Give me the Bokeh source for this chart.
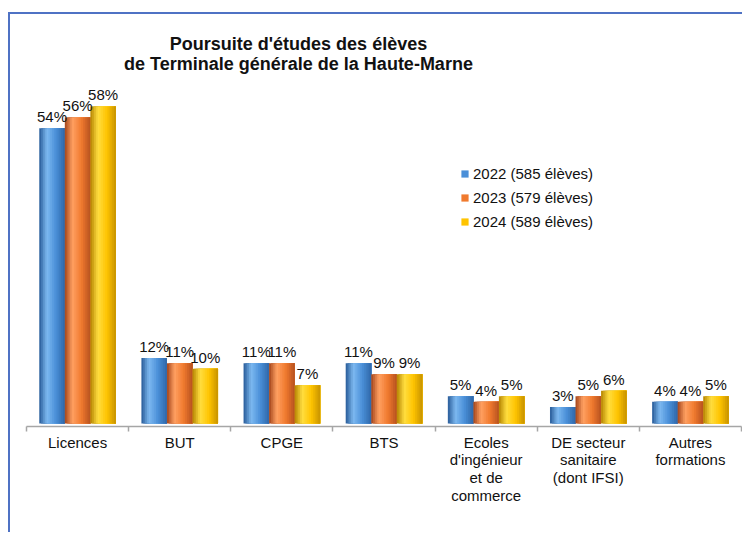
from bokeh.plotting import figure
from bokeh.models import (ColumnDataSource, FactorRange, Range1d, LinearAxis, FixedTicker,
                          LabelSet, Label, Legend, LegendItem)
from bokeh.core.properties import value
from bokeh.transform import dodge
from bokeh.embed import file_html
from bokeh.resources import INLINE

# ---------------- data ----------------
title_line1 = "Poursuite d'études des élèves"
title_line2 = "de Terminale générale de la Haute-Marne"
category_keys = ["Licences", "BUT", "CPGE", "BTS", "Ecoles", "DE", "Autres"]
category_labels = ["Licences", "BUT", "CPGE", "BTS",
                   "Ecoles\nd'ingénieur\net de\ncommerce",
                   "DE secteur\nsanitaire\n(dont IFSI)",
                   "Autres\nformations"]
series_names = ["2022 (585 élèves)", "2023 (579 élèves)", "2024 (589 élèves)"]
values_2022 = [54, 12, 11, 11, 5, 3, 4]
values_2023 = [56, 11, 11, 9, 4, 5, 4]
values_2024 = [58, 10, 7, 9, 5, 6, 5]
series_values = [values_2022, values_2023, values_2024]

# ---------------- style ----------------
FONT = "Liberation Sans"
palettes = [  # dark, mid, light
    ("#275a98", "#4a8fd8", "#7db9f0"),
    ("#a3441a", "#f07a2e", "#ffa062"),
    ("#b58300", "#ffc400", "#ffde40"),
]
legend_colors = ["#4a8fd8", "#f07a2e", "#ffc400"]

def hex2rgb(h):
    h = h.lstrip("#")
    return tuple(int(h[i:i + 2], 16) for i in (0, 2, 4))

def rgb2hex(c):
    return "#%02x%02x%02x" % tuple(int(round(v)) for v in c)

def mix(a, b, t):
    a, b = hex2rgb(a), hex2rgb(b)
    return rgb2hex([a[i] + (b[i] - a[i]) * t for i in range(3)])

def shade(pal, t):
    dark, mid, light = pal
    if t < 0.3:
        return mix(dark, light, t / 0.3)
    if t < 0.65:
        return mix(light, mid, (t - 0.3) / 0.35)
    return mix(mid, dark, (t - 0.65) / 0.35 * 0.75)

p = figure(x_range=FactorRange(factors=category_keys, range_padding=0),
           y_range=Range1d(-0.55, 73.0),
           width=734, height=520,
           output_backend="svg", toolbar_location=None,
           x_axis_location=None, y_axis_location=None,
           min_border_left=16, min_border_right=3,
           min_border_top=10, min_border_bottom=108)
p.outline_line_color = None
p.xgrid.visible = False
p.ygrid.visible = False
p.background_fill_color = "white"
p.border_fill_color = "white"
p.styles = {"border-top": "2px solid #4f72c4", "border-left": "2px solid #4f72c4",
            "margin-top": "12px", "margin-left": "8px"}

# axis with boundary ticks and centred labels
ax = LinearAxis(ticker=FixedTicker(ticks=[i + 0.5 for i in range(len(category_keys))],
                                   minor_ticks=list(range(len(category_keys) + 1))),
                major_label_overrides={i + 0.5: lab for i, lab in enumerate(category_labels)},
                major_tick_out=0, major_tick_in=0,
                minor_tick_out=5, minor_tick_in=0,
                axis_line_color="#a6a6a6", axis_line_width=1.5,
                minor_tick_line_color="#a6a6a6", minor_tick_line_width=1.5,
                major_label_standoff=2,
                major_label_text_font=FONT, major_label_text_font_size="15px",
                major_label_text_line_height=1.04,
                major_label_text_color="#111111")
p.add_layout(ax, "below")

bar_w = 0.25
offsets = [-bar_w, 0.0, bar_w]
n_slices = 14
legend_items = []
for s, (vals, pal) in enumerate(zip(series_values, palettes)):
    src = ColumnDataSource(dict(cat=category_keys, val=vals,
                                txt=[f"{v}%" for v in vals]))
    left = offsets[s] - bar_w / 2
    right = offsets[s] + bar_w / 2
    step = bar_w / n_slices
    for j in range(n_slices):
        l = left + j * step
        c = (l + right) / 2
        w = right - l
        col = shade(pal, (j + 0.5) / n_slices)
        p.vbar(x=dodge("cat", c, range=p.x_range), top="val", bottom=0, width=w,
               source=src, fill_color=col, line_color=None)
    proxy = p.vbar(x=dodge("cat", offsets[s], range=p.x_range), top="val", bottom=0,
                   width=0, source=src, fill_color=legend_colors[s], line_color=None)
    legend_items.append(LegendItem(label=series_names[s], renderers=[proxy]))
    p.add_layout(LabelSet(x=dodge("cat", offsets[s], range=p.x_range), y="val", text="txt",
                          source=src, text_align="center", text_baseline="bottom",
                          y_offset=3, text_font=value(FONT), text_font_size="15px",
                          text_color="#111111"))

legend = Legend(items=legend_items, location=(434, 196), orientation="vertical",
                background_fill_alpha=0, border_line_color=None,
                padding=0, margin=0, spacing=7,
                glyph_width=9, glyph_height=9, label_standoff=4, label_height=17,
                label_text_font=FONT, label_text_font_size="15px",
                label_text_color="#111111")
p.add_layout(legend)

for txt, y in ((title_line1, 383), (title_line2, 363)):
    p.add_layout(Label(x=272, y=y, x_units="screen", y_units="screen", text=txt,
                       text_align="center", text_baseline="alphabetic",
                       text_font=FONT, text_font_style="bold", text_font_size="18px",
                       text_color="#111111"))

open("out.html", "w").write(file_html(p, INLINE))
